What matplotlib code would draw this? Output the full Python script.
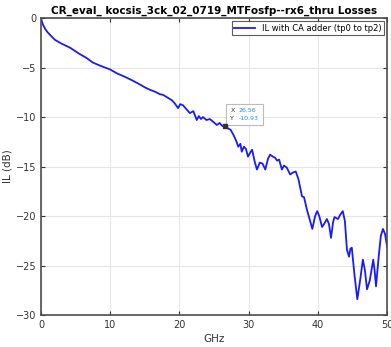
import numpy as np
import matplotlib
matplotlib.use("Agg")
import matplotlib.pyplot as plt
from matplotlib.offsetbox import TextArea, HPacker, AnnotationBbox

# insertion loss
freq_ghz = [0, 0.15, 0.3, 0.6, 0.9, 1.3, 2, 3, 4.2, 5.5, 6.5, 7.5, 8.5, 10, 11, 12,
            12.9, 14, 15, 15.75, 16.5, 17.2, 17.6, 18.2, 18.9, 19.3, 19.8, 20.1,
            20.5, 21, 21.5, 22, 22.5, 22.8, 23.1, 23.4, 23.9, 24.4, 24.9, 25.4,
            25.8, 26.2, 26.56, 26.9, 27.4, 27.8, 28.2, 28.5, 28.8, 29.0, 29.3,
            29.6, 29.9, 30.3, 30.5, 30.9, 31.2, 31.6, 32.0, 32.4, 32.8, 33.1,
            33.5, 33.8, 34.1, 34.4, 34.8, 35.1, 35.5, 36.0, 36.4, 36.8, 37.2,
            37.7, 38.0, 38.4, 38.8, 39.2, 39.6, 39.9, 40.2, 40.6, 40.9, 41.3,
            41.6, 41.9, 42.2, 42.4, 42.9, 43.2, 43.6, 43.9, 44.2, 44.5, 44.7,
            44.9, 45.3, 45.7, 46.1, 46.5, 46.8, 47.1, 47.5, 48.0, 48.2, 48.4,
            48.8, 49.1, 49.4, 49.7, 50]
il_db = [-0.05, -0.4, -0.7, -1.1, -1.4, -1.7, -2.2, -2.6, -3.0, -3.6, -4.0, -4.5,
         -4.8, -5.2, -5.6, -5.9, -6.2, -6.6, -7.0, -7.25, -7.45, -7.7, -7.75,
         -8.0, -8.3, -8.6, -9.1, -8.7, -8.8, -9.2, -9.6, -9.4, -10.3, -9.9,
         -10.2, -10.0, -10.3, -10.2, -10.5, -10.8, -10.6, -10.9, -10.93, -11.1,
         -11.3, -11.8, -12.4, -13.0, -12.7, -13.5, -13.0, -13.2, -14.0, -13.5,
         -13.3, -14.6, -15.3, -14.6, -14.7, -15.3, -14.2, -13.8, -14.0, -14.1,
         -14.4, -14.3, -15.3, -14.9, -15.1, -15.8, -15.6, -15.5, -16.3, -18.0,
         -18.1, -19.3, -20.3, -21.3, -20.0, -19.5, -20.0, -21.1, -20.8, -20.3,
         -20.8, -22.2, -20.6, -20.1, -20.3, -19.9, -19.5, -20.5, -23.4, -24.1,
         -23.3, -23.2, -26.0, -28.4, -26.5, -24.4, -25.5, -27.4, -26.5, -24.4,
         -25.5, -27.1, -24.0, -22.0, -21.3, -21.8, -23.1]

tip_x = 26.56
tip_y = -10.93

fig = plt.figure(figsize=(3.91, 3.47), dpi=100)
ax = fig.add_axes([0.105, 0.092, 0.885, 0.856])

ax.plot(freq_ghz, il_db, color="#1a1aff", lw=1.3,
        label="IL with CA adder (tp0 to tp2)")

ax.set_xlim(0, 50)
ax.set_ylim(-30, 0)
ax.set_xticks(np.arange(0, 51, 10))
ax.set_yticks(np.arange(-30, 1, 5))
ax.grid(True, color="#e6e6e6", lw=0.8)
ax.set_axisbelow(True)
ax.tick_params(direction="in", labelsize=7, colors="#333333", length=3,
               top=True, right=True)
for s in ax.spines.values():
    s.set_color("#4d4d4d")
    s.set_linewidth(1.2)

ax.set_xlabel("GHz", fontsize=7.5, color="#333333", labelpad=3)
ax.set_ylabel("IL (dB)", fontsize=7.5, color="#333333", labelpad=2)
ax.set_title("CR_eval_ kocsis_3ck_02_0719_MTFosfp--rx6_thru Losses",
             fontsize=7.5, fontweight="bold", pad=3)

leg = ax.legend(loc="upper right", fontsize=6, frameon=True, fancybox=False,
                handlelength=2.5, borderpad=0.3, borderaxespad=0.4)
leg.get_frame().set_edgecolor("#333333")
leg.get_frame().set_linewidth(0.8)

# data tip: black X/Y labels, blue values, one box
names = TextArea("X\nY", textprops=dict(fontsize=4.5, color="#333333",
                                         linespacing=1.6))
vals = TextArea("%.2f\n%.2f" % (tip_x, tip_y),
                textprops=dict(fontsize=4.5, color="#1a8cff", linespacing=1.6))
pack = HPacker(children=[names, vals], pad=0, sep=3, align="baseline")
tip = AnnotationBbox(pack, (tip_x, tip_y), xybox=(4, 4),
                     boxcoords="offset points", box_alignment=(0, 0),
                     pad=0.6, frameon=True,
                     bboxprops=dict(boxstyle="square", fc="white",
                                    ec="#bbbbbb", lw=0.8))
ax.add_artist(tip)
ax.plot([tip_x], [tip_y], marker="s", ms=2.5, color="#333333", zorder=5)

fig.savefig("out.png", dpi=100)
